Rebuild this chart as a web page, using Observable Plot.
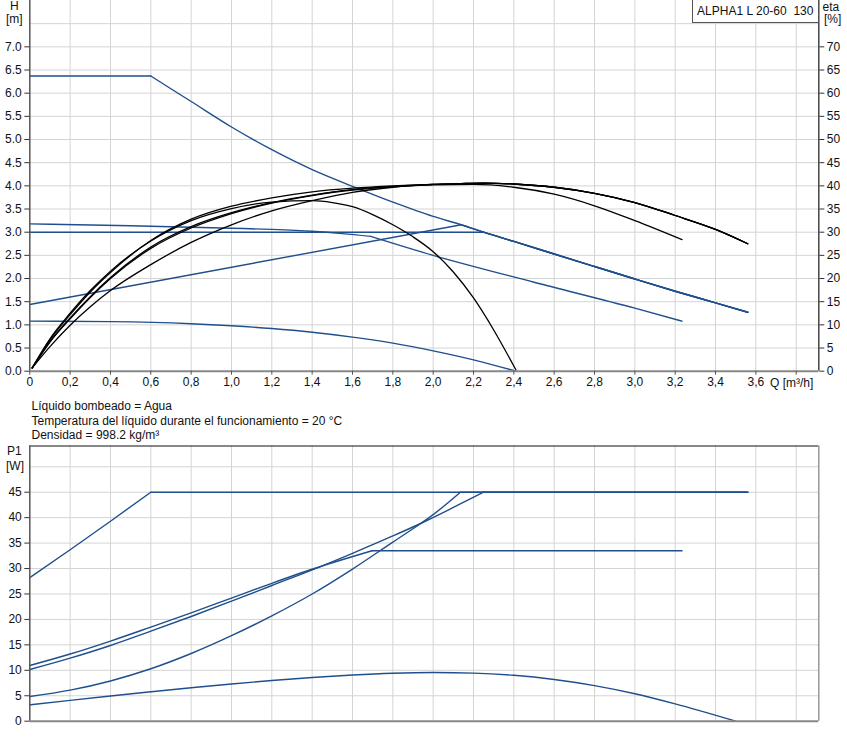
<!DOCTYPE html>
<html><head><meta charset="utf-8">
<script src="https://cdn.jsdelivr.net/npm/d3@7"></script>
<script src="https://cdn.jsdelivr.net/npm/@observablehq/plot@0.6"></script>
<style>
body{margin:0;background:#fff;font-family:"Liberation Sans",Arial,sans-serif;font-size:12px;color:#111}
#wrap{position:relative;width:847px;height:742px;overflow:hidden;background:#fff}
.t{position:absolute;white-space:pre;line-height:14px}
.s{position:absolute;white-space:pre;line-height:12px}
#topchart,#botchart{position:absolute;left:0}
#topchart{top:0}
#botchart{top:440px}
.box{position:absolute;box-sizing:border-box;left:691.5px;top:-1px;width:127.5px;height:24px;border:1px solid #555;background:#fff;text-align:center;line-height:22px;white-space:pre}
</style></head><body>
<div id="wrap">
  <div id="topchart"></div>
  <div id="botchart"></div>
  <div class="box">ALPHA1 L 20-60  130</div>
  <div class="s" style="left:10px;top:-0.5px">H</div>
  <div class="s" style="left:6px;top:12.5px">[m]</div>
  <div class="s" style="left:822.5px;top:0.5px">eta</div>
  <div class="s" style="left:824px;top:13px">[%]</div>
  <div class="t" style="left:770px;top:375.5px">Q [m³/h]</div>
  <div class="t" style="left:31.5px;top:399px">Líquido bombeado = Agua</div>
  <div class="t" style="left:31.5px;top:413.5px">Temperatura del líquido durante el funcionamiento = 20 °C</div>
  <div class="t" style="left:31.5px;top:428px">Densidad = 998.2 kg/m³</div>
  <div class="s" style="left:7px;top:445px">P1</div>
  <div class="s" style="left:6px;top:460px">[W]</div>
</div>
<script>
// ---- axes / ticks ----
const X_TICKS = [0, 0.2, 0.4, 0.6, 0.8, 1.0, 1.2, 1.4, 1.6, 1.8, 2.0, 2.2, 2.4, 2.6, 2.8, 3.0, 3.2, 3.4, 3.6, 3.8];
const X_GRID = [0.2, 0.4, 0.6, 0.8, 1.0, 1.2, 1.4, 1.6, 1.8, 2.0, 2.2, 2.4, 2.6, 2.8, 3.0, 3.2, 3.4, 3.6, 3.8];
const H_TICKS = [0, 0.5, 1.0, 1.5, 2.0, 2.5, 3.0, 3.5, 4.0, 4.5, 5.0, 5.5, 6.0, 6.5, 7.0];
const H_GRID = [0.5, 1.0, 1.5, 2.0, 2.5, 3.0, 3.5, 4.0, 4.5, 5.0, 5.5, 6.0, 6.5, 7.0, 7.5];
const P_TICKS = [0, 5, 10, 15, 20, 25, 30, 35, 40, 45];
const P_GRID = [5, 10, 15, 20, 25, 30, 35, 40, 45, 50];

// ---- H (m) curves ----
const Q_TAIL = [2.25, 2.4, 2.6, 2.8, 3.0, 3.2, 3.4, 3.56];
const H_TAIL = [3.0, 2.8, 2.53, 2.26, 1.99, 1.726, 1.475, 1.273];

const Q_H_MAX = [0, 0.6, 0.8, 1.0, 1.2, 1.4, 1.6, 1.8, 2.0, 2.14, ...Q_TAIL];
const H_MAX = [6.37, 6.37, 5.82, 5.27, 4.78, 4.35, 3.99, 3.65, 3.34, 3.16, ...H_TAIL];

const Q_H_CONST = [0, ...Q_TAIL];
const H_CONST = [3.0, ...H_TAIL];

const Q_H_PROP = [0, 2.14, ...Q_TAIL];
const H_PROP = [1.44, 3.16, ...H_TAIL];

const Q_H_C3 = [0, 0.5, 1.0, 1.2, 1.4, 1.55, 1.69, 2.0, 2.5, 3.0, 3.234];
const H_C3 = [3.18, 3.14, 3.085, 3.06, 3.02, 2.97, 2.91, 2.5, 1.92, 1.36, 1.08];

const Q_H_MIN = [0, 0.4, 0.8, 1.0, 1.2, 1.4, 1.6, 1.8, 2.0, 2.2, 2.41];
const H_MIN = [1.08, 1.07, 1.025, 0.98, 0.92, 0.84, 0.735, 0.605, 0.44, 0.245, 0];

// ---- eta (%) curves ----
const ETA_TAIL = [40.6, 40.4, 39.7, 38.4, 36.4, 33.6, 30.6, 27.5];
const Q_E_LOW = [0.012, 0.1, 0.2, 0.3, 0.4, 0.6, 0.8, 1.0, 1.2, 1.4, 1.6, 1.8, 2.0];

const Q_E_MAX = [...Q_E_LOW, 2.14, ...Q_TAIL];
const E_MAX = [0.7, 5.3, 9.9, 13.9, 17.4, 23.0, 27.8, 31.6, 34.6, 36.8, 38.6, 39.7, 40.3, 40.5, ...ETA_TAIL];

const Q_E_PROP = [...Q_E_LOW, 2.14, ...Q_TAIL];
const E_PROP = [0.7, 6.8, 12.2, 17.1, 21.3, 28.2, 32.8, 35.6, 37.4, 38.7, 39.5, 40.0, 40.3, 40.5, ...ETA_TAIL];

const Q_E_CONST = [...Q_E_LOW, ...Q_TAIL];
const E_CONST = [0.7, 6.4, 11.5, 16.1, 20.2, 26.8, 31.2, 34.2, 36.4, 38.0, 39.2, 39.9, 40.3, ...ETA_TAIL];

const Q_E_C3 = [...Q_E_LOW, 2.2, 2.4, 2.6, 2.8, 3.0, 3.234];
const E_C3 = [0.7, 6.3, 11.3, 15.9, 20.0, 26.5, 30.9, 34.0, 36.3, 37.9, 39.1, 39.8, 40.2, 40.3, 39.7, 38.2, 35.7, 32.5, 28.4];

const Q_E_MIN = [0.012, 0.1, 0.2, 0.3, 0.4, 0.6, 0.8, 1.0, 1.2, 1.4, 1.5, 1.6, 1.7, 1.8, 1.9, 2.0, 2.1, 2.2, 2.3, 2.41];
const E_MIN = [0.7, 7.0, 12.5, 17.4, 21.6, 28.1, 32.5, 35.1, 36.5, 36.8, 36.4, 35.5, 33.8, 31.6, 29.0, 25.8, 21.4, 15.8, 8.9, 0.3];

// ---- P1 (W) curves ----
const Q_P_MAX = [0, 0.2, 0.4, 0.6, 3.56];
const P_MAX = [28.2, 33.7, 39.3, 45, 45];

const Q_P_CONST = [0, 0.2, 0.4, 0.6, 0.8, 1.0, 1.2, 1.41, 1.6, 1.8, 1.94, 2.1, 2.25, 3.56];
const P_CONST = [10.16, 12.39, 14.88, 17.69, 20.57, 23.59, 26.67, 29.9, 33.0, 36.4, 38.9, 42.0, 45, 45];

const Q_P_C3 = [0, 0.2, 0.4, 0.6, 0.8, 1.0, 1.2, 1.41, 1.697, 3.234];
const P_C3 = [10.95, 13.2, 15.75, 18.5, 21.3, 24.2, 27.1, 30.0, 33.5, 33.5];

const Q_P_PROP = [0, 0.2, 0.4, 0.6, 0.8, 1.0, 1.2, 1.4, 1.6, 1.8, 1.94, 2.0, 2.135, 3.56];
const P_PROP = [4.85, 6.1, 7.9, 10.3, 13.3, 16.8, 20.7, 25.0, 29.9, 35.2, 38.9, 40.6, 45, 45];

const Q_P_MIN = [0, 0.2, 0.4, 0.6, 0.8, 1.0, 1.2, 1.4, 1.6, 1.8, 2.0, 2.2, 2.4, 2.6, 2.8, 3.0, 3.2, 3.5];
const P_MIN = [3.22, 4.1, 4.95, 5.78, 6.58, 7.32, 8.0, 8.6, 9.08, 9.42, 9.56, 9.45, 9.02, 8.2, 7.0, 5.4, 3.4, 0];

// build rows, splitting into segments at sharp knees (index where a new segment starts)
function rows(name, qs, vs, breaks = []) {
  const out = [];
  let seg = 0;
  qs.forEach((q, i) => {
    if (breaks.includes(i)) {
      out.push({key: name + seg, q, v: vs[i]});
      seg++;
    }
    out.push({key: name + seg, q, v: vs[i]});
  });
  return out;
}

const blueH = [
  ...rows("max", Q_H_MAX, H_MAX, [1]),
  ...rows("const", Q_H_CONST, H_CONST, [1]),
  ...rows("prop", Q_H_PROP, H_PROP, [1]),
  ...rows("c3", Q_H_C3, H_C3, [6]),
  ...rows("min", Q_H_MIN, H_MIN)
];
const etaRows = [
  ...rows("emax", Q_E_MAX, E_MAX),
  ...rows("eprop", Q_E_PROP, E_PROP),
  ...rows("econst", Q_E_CONST, E_CONST),
  ...rows("ec3", Q_E_C3, E_C3),
  ...rows("emin", Q_E_MIN, E_MIN)
];
const pRows = [
  ...rows("pmax", Q_P_MAX, P_MAX, [3]),
  ...rows("pconst", Q_P_CONST, P_CONST, [12]),
  ...rows("pc3", Q_P_C3, P_C3, [8]),
  ...rows("pprop", Q_P_PROP, P_PROP, [12]),
  ...rows("pmin", Q_P_MIN, P_MIN)
];

const X_MAX = 3.912;
const BLUE = "#1f4f8c";
const GRID = "#d4d4d4";
const chartStyle = {fontFamily: '"Liberation Sans", Arial, sans-serif', fontSize: "12px", color: "#111", background: "transparent", overflow: "visible"};
const fmtQ = d => d === 0 ? "0" : (d > 3.7 ? "" : d.toFixed(1).replace(".", ","));

const chartH = Plot.plot({
  width: 847, height: 395,
  marginLeft: 29.3, marginRight: 28.7, marginTop: 0, marginBottom: 24.3,
  style: chartStyle,
  x: {domain: [0, X_MAX], label: null},
  y: {domain: [0, 8], label: null},
  marks: [
    Plot.gridX(X_GRID, {stroke: GRID, strokeOpacity: 1}),
    Plot.gridY(H_GRID, {stroke: GRID, strokeOpacity: 1}),
    Plot.line(blueH, {x: "q", y: "v", z: "key", stroke: BLUE, strokeWidth: 1.4, curve: "monotone-x"}),
    Plot.line(etaRows, {x: "q", y: d => d.v / 10, z: "key", stroke: "#000", strokeWidth: 1.3, curve: "monotone-x"}),
    Plot.ruleX([0], {stroke: "#555", strokeWidth: 1.5}),
    Plot.ruleX([X_MAX], {stroke: "#444", strokeWidth: 1.5}),
    Plot.ruleY([0], {stroke: "#888", strokeWidth: 2}),
    Plot.axisX(X_TICKS, {anchor: "bottom", tickSize: 4, tickPadding: 2, tickFormat: fmtQ, label: null, stroke: "#555"}),
    Plot.axisY(H_TICKS, {anchor: "left", tickSize: 5, tickPadding: 3, tickFormat: d => d.toFixed(1), label: null, stroke: "#333"}),
    Plot.axisY(H_TICKS, {anchor: "right", tickSize: 5, tickPadding: 3, tickFormat: d => String(Math.round(d * 10)), label: null, stroke: "#333"})
  ]
});
document.getElementById("topchart").appendChild(chartH);

const P_TOP = 54.08;
const chartP = Plot.plot({
  width: 847, height: 302,
  marginLeft: 29.3, marginRight: 28.7, marginTop: 5.5, marginBottom: 21.3,
  style: chartStyle,
  x: {domain: [0, X_MAX], label: null, axis: null},
  y: {domain: [0, P_TOP], label: null},
  marks: [
    Plot.gridX(X_GRID, {stroke: GRID, strokeOpacity: 1}),
    Plot.gridY(P_GRID, {stroke: GRID, strokeOpacity: 1}),
    Plot.line(pRows, {x: "q", y: "v", z: "key", stroke: BLUE, strokeWidth: 1.4, curve: "monotone-x"}),
    Plot.ruleY([P_TOP], {stroke: "#111", strokeWidth: 1}),
    Plot.ruleX([0], {stroke: "#555", strokeWidth: 1.5}),
    Plot.ruleX([X_MAX], {stroke: "#999", strokeWidth: 1.5}),
    Plot.ruleY([0], {stroke: "#888", strokeWidth: 2}),
    Plot.axisY(P_TICKS, {anchor: "left", tickSize: 5, tickPadding: 3, tickFormat: d => String(d), label: null, stroke: "#333"})
  ]
});
document.getElementById("botchart").appendChild(chartP);
</script>
</body></html>
